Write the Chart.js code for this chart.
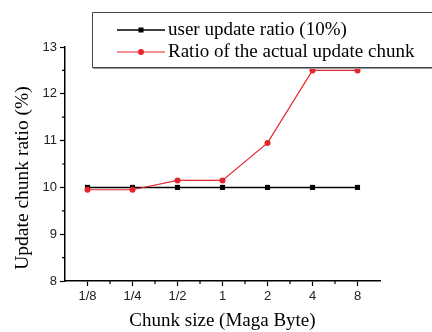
<!DOCTYPE html>
<html>
<head>
<meta charset="utf-8">
<script src="https://cdn.jsdelivr.net/npm/chart.js@4.4.1/dist/chart.umd.min.js"></script>
<style>
  html, body { margin: 0; padding: 0; background: #fff; overflow: hidden; }
  canvas { display: block; }
</style>
</head>
<body>
<canvas id="chunkChart" width="432" height="332"></canvas>
<script>
// data
const chunkSizes = ['1/8', '1/4', '1/2', '1', '2', '4', '8'];
const userRatio = [10, 10, 10, 10, 10, 10, 10];
const actualRatio = [9.95, 9.95, 10.15, 10.15, 10.95, 12.5, 12.5];
const yTicks = [8, 9, 10, 11, 12, 13];
const seriesNames = ['user update ratio (10%)', 'Ratio of the actual update chunk'];

const serif = "'Liberation Serif', 'Times New Roman', serif";
const sans = "'Liberation Sans', Arial, sans-serif";

// small ticks between the major ones, like the original plot
const minorTicks = {
  id: 'minorTicks',
  afterDraw(chart) {
    const ctx = chart.ctx;
    const x = chart.scales.x, y = chart.scales.y;
    const area = chart.chartArea;
    ctx.save();
    ctx.strokeStyle = '#000';
    ctx.lineWidth = 1.2;
    ctx.beginPath();
    for (let i = 0; i < chunkSizes.length - 1; i++) {
      const px = (x.getPixelForValue(i) + x.getPixelForValue(i + 1)) / 2;
      ctx.moveTo(px, area.bottom);
      ctx.lineTo(px, area.bottom + 3);
    }
    for (let i = 0; i < yTicks.length - 1; i++) {
      const py = y.getPixelForValue((yTicks[i] + yTicks[i + 1]) / 2);
      ctx.moveTo(area.left, py);
      ctx.lineTo(area.left - 3, py);
    }
    ctx.stroke();
    ctx.restore();
  }
};

// y title sits a bit below the middle of the axis in the original
const yTitle = {
  id: 'yTitle',
  afterDraw(chart) {
    const ctx = chart.ctx;
    const area = chart.chartArea;
    ctx.save();
    ctx.translate(23, (area.top + area.bottom) / 2 + 14);
    ctx.rotate(-Math.PI / 2);
    ctx.font = '19.5px ' + serif;
    ctx.fillStyle = '#000';
    ctx.textAlign = 'center';
    ctx.textBaseline = 'middle';
    ctx.fillText('Update chunk ratio (%)', 0, 0);
    ctx.restore();
  }
};

// boxed legend at the top right, running off the right edge
const boxLegend = {
  id: 'boxLegend',
  afterDraw(chart) {
    const ctx = chart.ctx;
    const left = 92, top = 12, h = 55;
    ctx.save();
    ctx.fillStyle = '#fff';
    ctx.fillRect(left, top, chart.width - left + 10, h);
    ctx.strokeStyle = '#444';
    ctx.lineWidth = 1;
    ctx.beginPath();
    ctx.moveTo(chart.width + 5, top + 0.5);
    ctx.lineTo(left + 0.5, top + 0.5);
    ctx.lineTo(left + 0.5, top + h + 0.5);
    ctx.lineTo(chart.width + 5, top + h + 0.5);
    ctx.stroke();
    ctx.strokeStyle = '#999';
    ctx.beginPath();
    ctx.moveTo(left + 1, top + h + 1.5);
    ctx.lineTo(chart.width, top + h + 1.5);
    ctx.stroke();

    chart.data.datasets.forEach((ds, i) => {
      const cy = top + 18 + i * 22;
      ctx.strokeStyle = ds.borderColor;
      ctx.lineWidth = ds.borderWidth;
      ctx.beginPath();
      ctx.moveTo(117, cy);
      ctx.lineTo(165, cy);
      ctx.stroke();
      ctx.fillStyle = ds.pointBackgroundColor;
      if (ds.pointStyle === 'rect') {
        ctx.fillRect(138.5, cy - 2.5, 5, 5);
      } else {
        ctx.beginPath();
        ctx.arc(141, cy, 3, 0, Math.PI * 2);
        ctx.fill();
      }
      ctx.fillStyle = '#000';
      ctx.font = '19px ' + serif;
      ctx.textBaseline = 'middle';
      ctx.fillText(ds.label, 168, cy);
    });
    ctx.restore();
  }
};

new Chart(document.getElementById('chunkChart'), {
  type: 'line',
  data: {
    labels: chunkSizes,
    datasets: [{
      label: seriesNames[0],
      data: userRatio,
      borderColor: '#000',
      backgroundColor: '#000',
      pointBackgroundColor: '#000',
      pointBorderColor: '#000',
      borderWidth: 1.5,
      pointStyle: 'rect',
      pointRadius: 3.6,
      pointBorderWidth: 0,
      order: 2
    }, {
      label: seriesNames[1],
      data: actualRatio,
      borderColor: '#e3262b',
      backgroundColor: '#e3262b',
      pointBackgroundColor: '#e3262b',
      pointBorderColor: '#e3262b',
      borderWidth: 1.2,
      pointStyle: 'circle',
      pointRadius: 3,
      pointBorderWidth: 0,
      order: 1
    }]
  },
  options: {
    responsive: false,
    animation: false,
    layout: { padding: { top: 47, right: 52, left: 0, bottom: 0 } },
    plugins: {
      legend: { display: false },
      tooltip: { enabled: false }
    },
    scales: {
      x: {
        offset: true,
        afterFit(scale) { scale.height = 51; },
        grid: { drawOnChartArea: false, drawTicks: true, tickLength: 5, tickColor: '#000', tickWidth: 1.2 },
        border: { display: true, color: '#000', width: 1.5 },
        ticks: { color: '#222', font: { family: sans, size: 13 }, padding: 3, maxRotation: 0 },
        title: { display: true, text: 'Chunk size (Maga Byte)', color: '#000', font: { family: serif, size: 19 }, padding: { top: 0, bottom: 0 } }
      },
      y: {
        min: yTicks[0],
        max: yTicks[yTicks.length - 1],
        afterFit(scale) { scale.width = 65; },
        grid: { drawOnChartArea: false, drawTicks: true, tickLength: 5, tickColor: '#000', tickWidth: 1.2 },
        border: { display: true, color: '#000', width: 1.5 },
        ticks: { stepSize: 1, color: '#222', font: { family: sans, size: 13 }, padding: 3 }
      }
    }
  },
  plugins: [minorTicks, yTitle, boxLegend]
});
</script>
</body>
</html>
